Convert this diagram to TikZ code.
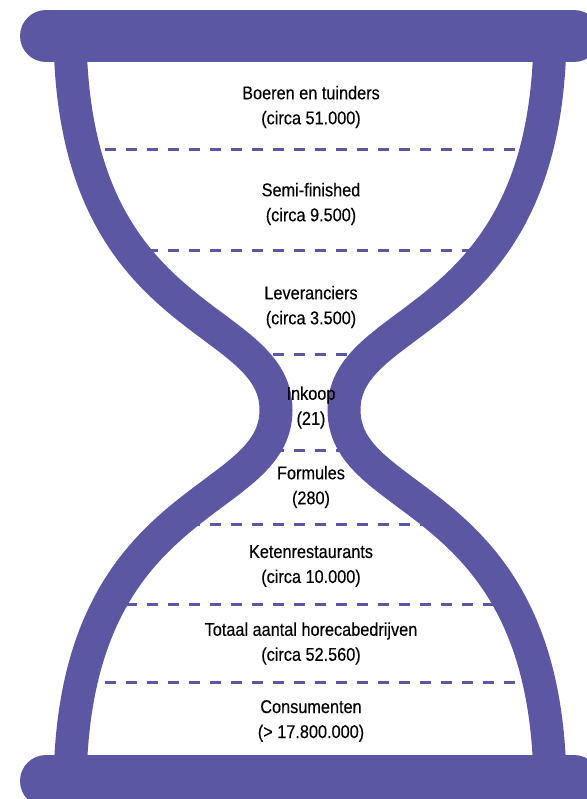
\documentclass[tikz,border=0pt]{standalone}
\usepackage{fontspec}
\setmainfont{Liberation Sans}[FakeStretch=0.88,FakeBold=0.3]
\definecolor{hg}{RGB}{91,87,162}
\begin{document}
\begin{tikzpicture}[x=1pt,y=-1pt,
  leg/.style={draw=hg,line width=33pt},
  bar/.style={draw=hg,line width=52pt,line cap=round},
  sep/.style={draw=hg,line width=3pt,dash pattern=on 11pt off 10pt},
  lbl/.style={align=center,font=\fontsize{18.5}{25}\selectfont,text=black,inner sep=0pt}]
\useasboundingbox (0,0) rectangle (586,799);
\begin{scope}
\clip (70,30) .. controls (70,330) and (276,310) .. (276,410)
  .. controls (276,510) and (70,490) .. (70,790)
  -- (550,790)
  .. controls (550,490) and (344,510) .. (344,410)
  .. controls (344,310) and (550,330) .. (550,30) -- cycle;
\foreach \yy in {150,251,354,450,524,604,682} \draw[sep] (0,\yy) -- (586,\yy);
\end{scope}
\draw[leg] (70,30) .. controls (70,330) and (276,310) .. (276,410)
  .. controls (276,510) and (70,490) .. (70,790);
\draw[leg] (550,30) .. controls (550,330) and (344,310) .. (344,410)
  .. controls (344,510) and (550,490) .. (550,790);
\draw[bar] (46,36) -- (574,36);
\draw[bar] (46,781) -- (574,781);
\node[lbl] (boeren) at (311,107) {Boeren en tuinders\\(circa 51.000)};
\node[lbl] (semi) at (311,204) {Semi-finished\\(circa 9.500)};
\node[lbl] (lev) at (311,307) {Leveranciers\\(circa 3.500)};
\node[lbl] (inkoop) at (311,407.5) {Inkoop\\(21)};
\node[lbl] (form) at (311,487) {Formules\\(280)};
\node[lbl] (keten) at (311,566) {Ketenrestaurants\\(circa 10.000)};
\node[lbl] (totaal) at (311,643.5) {Totaal aantal horecabedrijven\\(circa 52.560)};
\node[lbl] (cons) at (311,721) {Consumenten\\(> 17.800.000)};
\end{tikzpicture}
\end{document}
